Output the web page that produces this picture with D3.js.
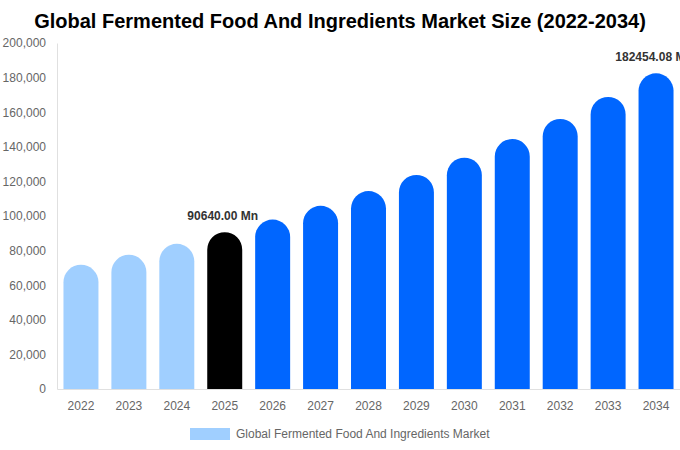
<!DOCTYPE html>
<html>
<head>
<meta charset="utf-8">
<script src="https://cdn.jsdelivr.net/npm/d3@7"></script>
<style>
  body { margin: 0; background: #fff; }
  svg { font-family: "Liberation Sans", Arial, sans-serif; }
</style>
</head>
<body>
<div id="chart"></div>
<script>
// Data
const years = ["2022", "2023", "2024", "2025", "2026", "2027", "2028", "2029", "2030", "2031", "2032", "2033", "2034"];
const marketSize = [71800, 77600, 83900, 90640, 97950, 105900, 114400, 123700, 133700, 144500, 156100, 168800, 182454.08];
const yTicks = [0, 20000, 40000, 60000, 80000, 100000, 120000, 140000, 160000, 180000, 200000];
const labelled = { "2025": "90640.00 Mn", "2034": "182454.08 Mn" };

const chartTitle = "Global Fermented Food And Ingredients Market Size (2022-2034)";
const legendLabel = "Global Fermented Food And Ingredients Market";

const svg = d3.select("#chart").append("svg")
    .attr("width", 680)
    .attr("height", 450);

const margin = { top: 43, right: 0, bottom: 61, left: 57 };
const width = +svg.attr("width") - margin.left - margin.right;
const height = +svg.attr("height") - margin.top - margin.bottom;

const g = svg.append("g").attr("transform", `translate(${margin.left},${margin.top})`);

const x = d3.scaleBand().domain(years).range([0, width]).paddingInner(0.27).paddingOuter(0.135);
const y = d3.scaleLinear().domain([0, 200000]).range([height, 0]);

function barColor(yr) {
    if (+yr < 2025) return "#a0cfff";
    if (+yr === 2025) return "#000000";
    return "#0066ff";
}

// title
svg.append("text")
    .attr("x", 340)
    .attr("y", 28)
    .attr("text-anchor", "middle")
    .style("font-size", "20px")
    .style("font-weight", "bold")
    .style("fill", "#000")
    .text(chartTitle);

// y axis
const yAxis = g.append("g")
    .call(d3.axisLeft(y).tickValues(yTicks).tickFormat(d3.format(",")).tickSize(0).tickPadding(11));
yAxis.select(".domain").attr("stroke", "#e0e0e0");
yAxis.selectAll("text").style("font-size", "12px").style("fill", "#666");

// x axis
const xAxis = g.append("g")
    .attr("transform", `translate(0,${height})`)
    .call(d3.axisBottom(x).tickSize(0).tickPadding(12));
xAxis.select(".domain").attr("stroke", "#e0e0e0");
xAxis.selectAll("text").style("font-size", "12px").style("fill", "#666");

// bars with rounded tops
function barPath(d, i) {
    const x0 = x(years[i]);
    const w = x.bandwidth();
    const r = w / 2;
    const top = y(d);
    const bottom = y(0);
    return `M${x0},${bottom} L${x0},${top + r} A${r},${r} 0 0 1 ${x0 + w},${top + r} L${x0 + w},${bottom} Z`;
}

g.selectAll(".bar")
    .data(marketSize)
    .enter().append("path")
    .attr("class", "bar")
    .attr("d", (d, i) => barPath(d, i))
    .attr("fill", (d, i) => barColor(years[i]));

// value labels
g.selectAll(".value-label")
    .data(years.filter(yr => labelled[yr]))
    .enter().append("text")
    .attr("class", "value-label")
    .attr("x", yr => x(yr) + x.bandwidth() / 2 - 2)
    .attr("y", yr => y(marketSize[years.indexOf(yr)]) - 12)
    .attr("text-anchor", "middle")
    .style("font-size", "12px")
    .style("font-weight", "bold")
    .style("fill", "#333")
    .text(yr => labelled[yr]);

// legend
const legend = svg.append("g").attr("transform", "translate(190,428)");
legend.append("rect")
    .attr("width", 40)
    .attr("height", 12)
    .attr("fill", "#a0cfff");
legend.append("text")
    .attr("x", 46)
    .attr("y", 10)
    .style("font-size", "12px")
    .style("fill", "#666")
    .text(legendLabel);
</script>
</body>
</html>
